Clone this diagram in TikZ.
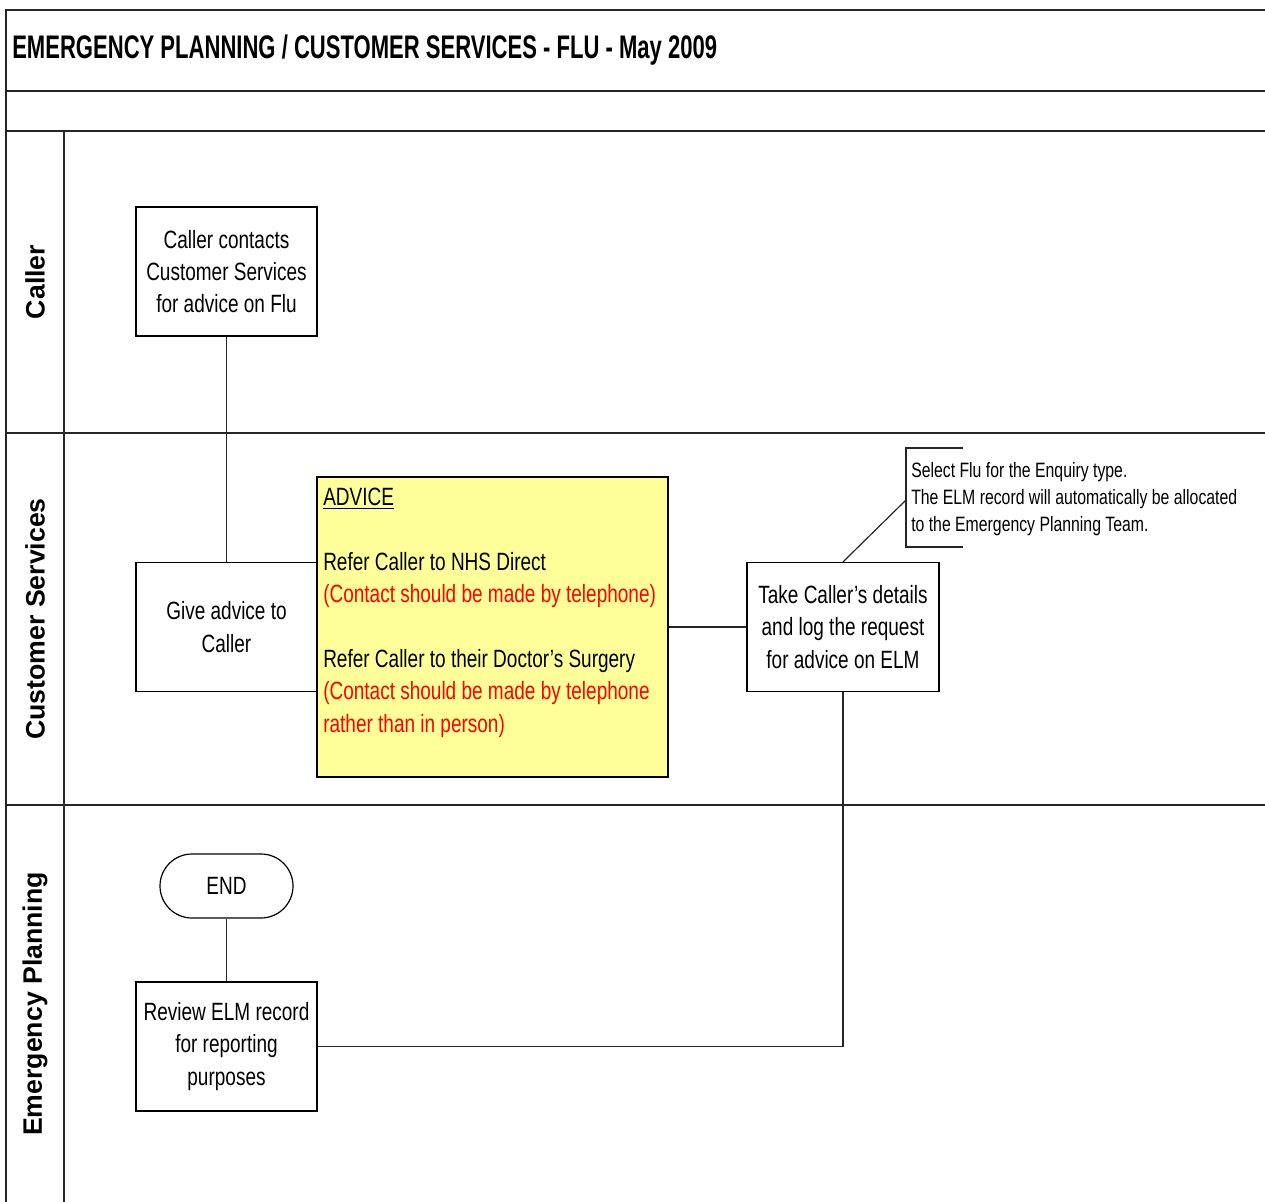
\documentclass[tikz,border=0pt]{standalone}
\usepackage{fontspec}
\setmainfont{Liberation Sans}
\newfontfamily\narrowfont[FakeStretch=0.76]{Liberation Sans}
\newfontfamily\headfont[FakeStretch=0.675]{Liberation Sans}
\definecolor{notefill}{HTML}{FFFF99}
\definecolor{notered}{HTML}{FF0000}
\begin{document}
\begin{tikzpicture}[x=0.75pt,y=-0.75pt,
  laneline/.style={line width=1.4pt, black!85},
  link/.style={line width=0.9pt, black!85},
  boxtext/.style={font=\narrowfont\fontsize{18.75}{24.25}\selectfont},
  procbox/.style={draw, line width=0.9pt, inner sep=0pt, align=center,
    minimum width=135.75pt, minimum height=96.75pt, boxtext},
  lanelabel/.style={rotate=90, font=\bfseries\fontsize{20}{24}\selectfont}]
\useasboundingbox (0,0) rectangle (1265,1202);

% frame and swimlanes
\draw[laneline] (1265,10) -- (6,10) -- (6,1202);
\draw[laneline] (6,91) -- (1265,91);
\draw[laneline] (6,131) -- (1265,131);
\draw[laneline] (6,433) -- (1265,433);
\draw[laneline] (6,805) -- (1265,805);
\draw[laneline] (64,131) -- (64,1202);

\node[anchor=west, font=\headfont\bfseries\fontsize{24.5}{29}\selectfont, inner sep=0pt]
  (title) at (12,50) {EMERGENCY PLANNING / CUSTOMER SERVICES - FLU - May 2009};

\node[lanelabel] (lcaller) at (35,282) {Caller};
\node[lanelabel] (lcust) at (35,619) {Customer Services};
\node[lanelabel] (lemerg) at (35,1004) {Emergency Planning};

% process steps
\node[procbox] (contact) at (226.5,271.5) {Caller contacts\\Customer Services\\for advice on Flu};
\node[procbox] (give) at (226.5,627) {Give advice to\\Caller};
\node[draw, line width=0.9pt, fill=notefill, minimum width=263.25pt, minimum height=225pt,
  inner sep=0pt] (advice) at (492.5,627) {};
\node[anchor=north west, inner sep=0pt, align=left, boxtext] (advtext) at (323,488)
  {\underline{ADVICE}\\[24.25pt]
   Refer Caller to NHS Direct\\
   \textcolor{notered}{(Contact should be made by telephone)}\\[24.25pt]
   Refer Caller to their Doctor’s Surgery\\
   \textcolor{notered}{(Contact should be made by telephone}\\
   \textcolor{notered}{rather than in person)}};
\node[procbox, minimum width=144pt] (take) at (843,627) {Take Caller’s details\\and log the request\\for advice on ELM};
\node[draw, line width=0.9pt, rounded corners=24pt, minimum width=99.75pt, minimum height=48pt,
  inner sep=0pt, boxtext] (endnode) at (226.5,886) {END};
\node[procbox] (review) at (226.5,1046.5) {Review ELM record\\for reporting\\purposes};

% annotation bracket
\coordinate (bracket) at (906,500);
\draw[link] (963,448) -- (906,448) -- (906,547) -- (963,547);
\node[anchor=west, inner sep=0pt, align=left, font=\narrowfont\fontsize{15.6}{20.25}\selectfont]
  (notetext) at (911,499) {Select Flu for the Enquiry type.\\The ELM record will automatically be allocated\\to the Emergency Planning Team.};

% connectors
\draw[link] (contact.south) -- (give.north);
\draw[link] (advice.east) -- (take.west);
\draw[link] (take.south) |- (review.east);
\draw[link] (review.north) -- (endnode.south);
\draw[link] (take.north) -- (bracket);
\end{tikzpicture}
\end{document}
